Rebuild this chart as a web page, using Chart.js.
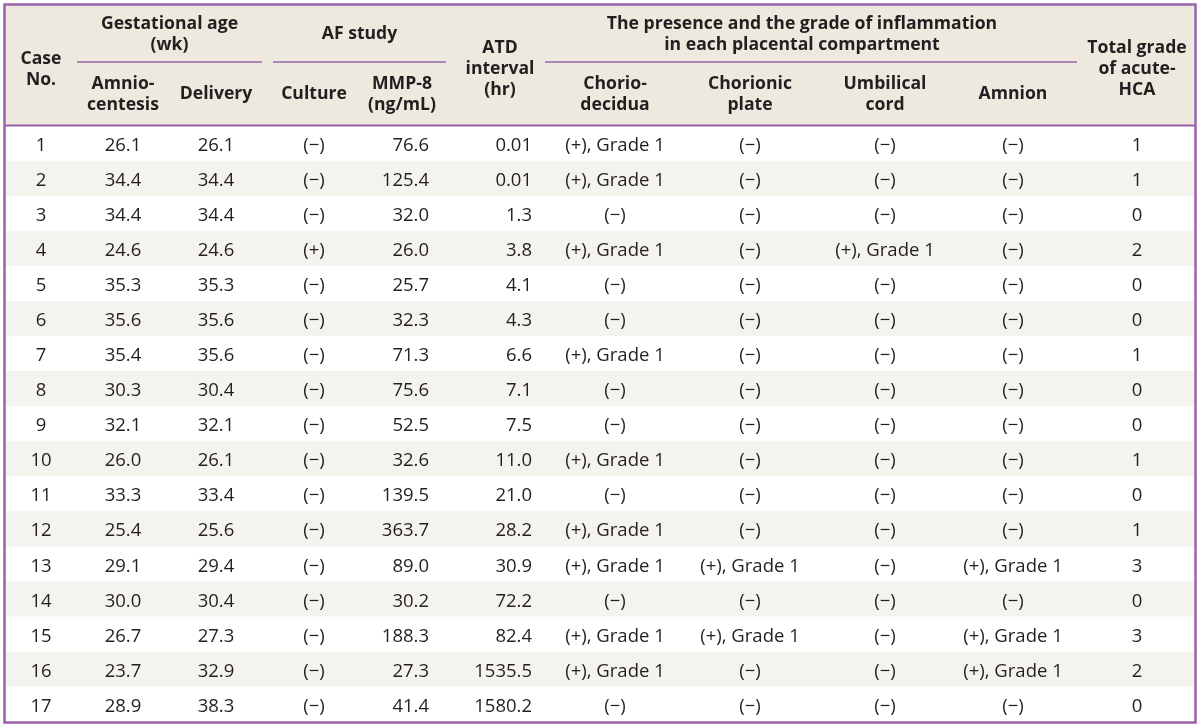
<!DOCTYPE html>
<html><head><meta charset="utf-8">
<script src="https://cdn.jsdelivr.net/npm/chart.js@4/dist/chart.umd.min.js"></script>
<style>html,body{margin:0;padding:0;background:#fff}#wrap{width:1200px;height:727px;position:relative}</style>
</head><body><div id="wrap"><canvas id="c"></canvas></div>
<script>
// ---- data ----
const caseNo = [1,2,3,4,5,6,7,8,9,10,11,12,13,14,15,16,17];
const gaAmnio = [26.1,34.4,34.4,24.6,35.3,35.6,35.4,30.3,32.1,26.0,33.3,25.4,29.1,30.0,26.7,23.7,28.9];
const gaDelivery = [26.1,34.4,34.4,24.6,35.3,35.6,35.6,30.4,32.1,26.1,33.4,25.6,29.4,30.4,27.3,32.9,38.3];
const cultureAF = [0,0,0,1,0,0,0,0,0,0,0,0,0,0,0,0,0];        // 1 = (+), 0 = (−)
const mmp8 = [76.6,125.4,32.0,26.0,25.7,32.3,71.3,75.6,52.5,32.6,139.5,363.7,89.0,30.2,188.3,27.3,41.4];
const atdInterval = [0.01,0.01,1.3,3.8,4.1,4.3,6.6,7.1,7.5,11.0,21.0,28.2,30.9,72.2,82.4,1535.5,1580.2];
const chorioDecidua = [1,1,0,1,0,0,1,0,0,1,0,1,1,0,1,1,0];  // grade (0 = negative)
const chorionicPlate = [0,0,0,0,0,0,0,0,0,0,0,0,1,0,1,0,0];
const umbilicalCord = [0,0,0,1,0,0,0,0,0,0,0,0,0,0,0,0,0];
const amnion = [0,0,0,0,0,0,0,0,0,0,0,0,1,0,1,1,0];
const totalGrade = [1,1,0,2,0,0,1,0,0,1,0,1,3,0,3,2,0];

// ---- header texts ----
const groupHeaders = [
  {lines:['Gestational age','(wk)'], from:72, to:257},
  {lines:['AF study'], from:268, to:441},
  {lines:['The presence and the grade of inflammation','in each placental compartment'], from:540, to:1072, tx:797}
];
const columnHeaders = [
  {lines:['Case','No.'], x:36, span:true},
  {lines:['Amnio-','centesis'], x:118},
  {lines:['Delivery'], x:211},
  {lines:['Culture'], x:309},
  {lines:['MMP-8','(ng/mL)'], x:397},
  {lines:['ATD','interval','(hr)'], x:495, span:true},
  {lines:['Chorio-','decidua'], x:610},
  {lines:['Chorionic','plate'], x:745},
  {lines:['Umbilical','cord'], x:880},
  {lines:['Amnion'], x:1008},
  {lines:['Total grade','of acute-','HCA'], x:1132, span:true}
];

// ---- styles ----
const PURPLE = '#9a62a8';
const HEAD_BG = '#ede9df';
const ROW_ALT = '#f5f3ee';
const TEXT = '#231f20';
const HEAD_H = 121;
const LINE_H = 21;
const BODY_FONT = '400 18.5px "Open Sans"';
const HEAD_FONT = '700 17.6px "Open Sans"';

const sign = v => v ? '(+)' : '(\u2212)';
const grade = g => g ? '(+), Grade ' + g : '(\u2212)';
const fmt = (v, d) => v.toFixed(d);

const bodyColumns = [
  {x:36, align:'center', text:i => String(caseNo[i])},
  {x:118, align:'center', text:i => fmt(gaAmnio[i],1)},
  {x:211, align:'center', text:i => fmt(gaDelivery[i],1)},
  {x:309, align:'center', text:i => sign(cultureAF[i])},
  {x:424, align:'right', text:i => fmt(mmp8[i],1)},
  {x:527, align:'right', text:i => fmt(atdInterval[i], atdInterval[i] < 0.1 ? 2 : 1)},
  {x:610, align:'center', text:i => grade(chorioDecidua[i])},
  {x:745, align:'center', text:i => grade(chorionicPlate[i])},
  {x:880, align:'center', text:i => grade(umbilicalCord[i])},
  {x:1008, align:'center', text:i => grade(amnion[i])},
  {x:1132, align:'center', text:i => String(totalGrade[i])}
];

const tablePlugin = {
  id: 'table',
  beforeDatasetsDraw(chart) {
    const {ctx, chartArea: a} = chart;
    ctx.save();
    ctx.fillStyle = HEAD_BG;
    ctx.fillRect(a.left, a.top - HEAD_H, a.right - a.left, HEAD_H);
    ctx.restore();
  },
  afterDatasetsDraw(chart) {
    const {ctx, chartArea: a, scales: {x, y}} = chart;
    const top = a.top - HEAD_H;
    ctx.save();
    ctx.fillStyle = TEXT;
    ctx.textBaseline = 'middle';
    ctx.font = HEAD_FONT;
    ctx.textAlign = 'center';
    const groupMid = top + 29;
    const subMid = top + 89;
    const fullMid = top + 64;
    groupHeaders.forEach(g => {
      const cx = g.tx !== undefined ? x.getPixelForValue(g.tx)
        : (x.getPixelForValue(g.from) + x.getPixelForValue(g.to)) / 2;
      const n = g.lines.length;
      g.lines.forEach((l, k) => ctx.fillText(l, cx, groupMid + (k - (n - 1) / 2) * LINE_H));
      ctx.strokeStyle = PURPLE;
      ctx.lineWidth = 1.5;
      ctx.beginPath();
      ctx.moveTo(x.getPixelForValue(g.from), top + 57);
      ctx.lineTo(x.getPixelForValue(g.to), top + 57);
      ctx.stroke();
    });
    columnHeaders.forEach(c => {
      const mid = c.span ? fullMid : subMid;
      const n = c.lines.length;
      c.lines.forEach((l, k) => ctx.fillText(l, x.getPixelForValue(c.x), mid + (k - (n - 1) / 2) * LINE_H));
    });
    // body
    ctx.font = BODY_FONT;
    caseNo.forEach((_, i) => {
      const py = y.getPixelForValue(i) + 2;
      bodyColumns.forEach(col => {
        ctx.textAlign = col.align;
        ctx.fillText(col.text(i), x.getPixelForValue(col.x), py);
      });
    });
    // header bottom rule
    ctx.strokeStyle = PURPLE;
    ctx.lineWidth = 2;
    ctx.beginPath();
    ctx.moveTo(a.left, a.top - 0.5);
    ctx.lineTo(a.right, a.top - 0.5);
    ctx.stroke();
    // outer frame
    ctx.lineWidth = 2.5;
    ctx.strokeRect(a.left - 0.5, top - 0.5, a.right - a.left + 1, a.bottom - top + 1);
    ctx.restore();
  }
};

new Chart(document.getElementById('c'), {
  type: 'bar',
  data: {
    labels: caseNo.map(String),
    datasets: [{
      data: caseNo.map(() => [0, 1190]),
      backgroundColor: caseNo.map((_, i) => i % 2 ? ROW_ALT : '#ffffff'),
      borderWidth: 0,
      barPercentage: 1,
      categoryPercentage: 1
    }]
  },
  options: {
    indexAxis: 'y',
    responsive: true,
    maintainAspectRatio: false,
    animation: false,
    events: [],
    layout: {padding: {left: 5, right: 5, top: 126, bottom: 5}},
    plugins: {legend: {display: false}, tooltip: {enabled: false}, title: {display: false}},
    scales: {
      x: {type: 'linear', min: 0, max: 1190, display: false},
      y: {type: 'category', display: false, offset: true}
    }
  },
  plugins: [tablePlugin]
});
</script>
</body></html>
